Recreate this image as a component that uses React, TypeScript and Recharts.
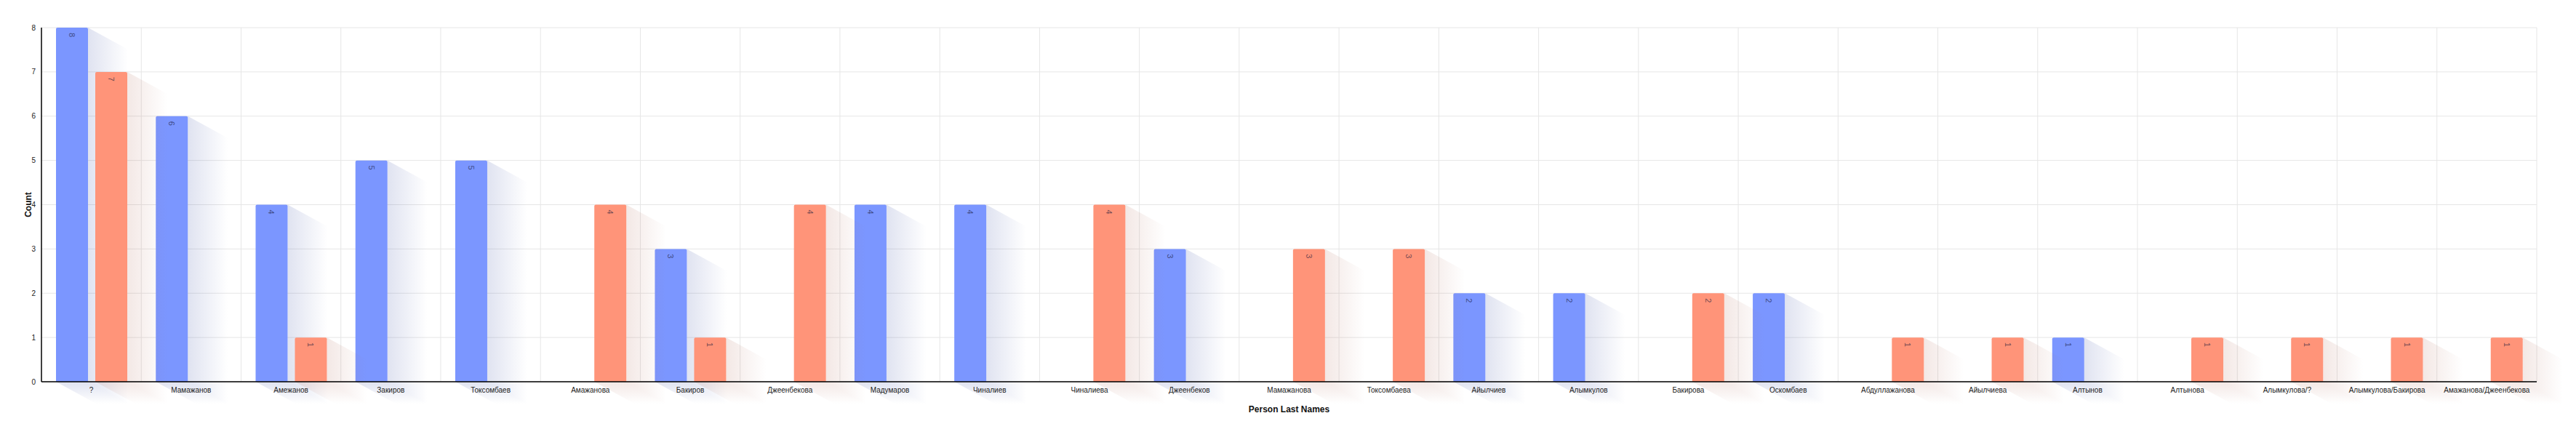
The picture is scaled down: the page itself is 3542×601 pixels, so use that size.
import React from 'react';
import { BarChart, Bar, XAxis, YAxis, CartesianGrid, LabelList, Rectangle, Label } from 'recharts';

const categories = [
  '?', 'Мамажанов', 'Амежанов', 'Закиров', 'Токсомбаев', 'Амажанова', 'Бакиров', 'Джеенбекова',
  'Мадумаров', 'Чиналиев', 'Чиналиева', 'Джеенбеков', 'Мамажанова', 'Токсомбаева', 'Айылчиев',
  'Алымкулов', 'Бакирова', 'Оскомбаев', 'Абдуллажанова', 'Айылчиева', 'Алтынов', 'Алтынова',
  'Алымкулова/?', 'Алымкулова/Бакирова', 'Амажанова/Джеенбекова',
];
const blueValues = [8, 6, 4, 5, 5, 0, 3, 0, 4, 4, 0, 3, 0, 0, 2, 2, 0, 2, 0, 0, 1, 0, 0, 0, 0];
const orangeValues = [7, 0, 1, 0, 0, 4, 1, 4, 0, 0, 4, 0, 3, 3, 0, 0, 2, 0, 1, 1, 0, 1, 1, 1, 1];
const yTicks = [0, 1, 2, 3, 4, 5, 6, 7, 8];

const data = categories.map((name, i) => ({ name, blue: blueValues[i], orange: orangeValues[i] }));

const BLUE = '#7b96ff';
const ORANGE = '#ff9479';
const DX = 55;
const DY = 30;

const makeShape = (key: string, color: string, shadow: string, alpha: number) => (props: any) => {
  const { x, y, width, height, index } = props;
  if (!height || height <= 0) return <g />;
  const gs = `gs-${key}-${index}`;
  const gb = `gb-${key}-${index}`;
  const r = x + width;
  const b = y + height;
  return (
    <g>
      <defs>
        <linearGradient id={gs} gradientUnits="userSpaceOnUse" x1={r} y1={0} x2={r + DX} y2={0}>
          <stop offset="0%" stopColor={shadow} stopOpacity={alpha} />
          <stop offset="100%" stopColor={shadow} stopOpacity={0} />
        </linearGradient>
        <linearGradient id={gb} gradientUnits="userSpaceOnUse" x1={0} y1={b} x2={0} y2={b + DY}>
          <stop offset="0%" stopColor={shadow} stopOpacity={alpha} />
          <stop offset="100%" stopColor={shadow} stopOpacity={0} />
        </linearGradient>
      </defs>
      <polygon
        points={`${r},${y} ${r + DX},${y + DY} ${r + DX},${b + DY} ${r},${b}`}
        fill={`url(#${gs})`}
      />
      <polygon
        points={`${x},${b} ${r},${b} ${r + DX},${b + DY} ${x + DX},${b + DY}`}
        fill={`url(#${gb})`}
      />
      <Rectangle x={x} y={y} width={width} height={height} radius={[2, 2, 0, 0]} fill={color} />
    </g>
  );
};

const valueLabel = (props: any) => {
  const { x, y, width, value } = props;
  if (!value) return null;
  const cx = x + width / 2;
  const cy = y + 10;
  return (
    <text
      x={cx}
      y={cy}
      transform={`rotate(90 ${cx} ${cy})`}
      textAnchor="middle"
      dominantBaseline="central"
      fontSize={11}
      fill="#1a1a3a"
      fillOpacity={0.65}
    >
      {value}
    </text>
  );
};

const countLabel = (props: any) => {
  const { viewBox } = props;
  const cx = viewBox.x + 39;
  const cy = viewBox.y + viewBox.height / 2;
  return (
    <text
      x={cx}
      y={cy}
      transform={`rotate(-90 ${cx} ${cy})`}
      textAnchor="middle"
      dominantBaseline="central"
      fontSize={12}
      fontWeight="bold"
      fill="#111"
    >
      Count
    </text>
  );
};

export default function App() {
  return (
    <div style={{ position: 'absolute', left: 0, top: 0, fontFamily: '"Liberation Sans", Arial, sans-serif', background: '#fff' }}>
      <BarChart
        width={3542}
        height={601}
        data={data}
        margin={{ top: 38, right: 54, bottom: 26, left: 0 }}
        barCategoryGap={20}
        barGap={10}
      >
        <CartesianGrid
          stroke="#e6e6e6"
          verticalCoordinatesGenerator={({ offset }: any) =>
            categories.map((_, i) => offset.left + (offset.width * (i + 1)) / categories.length)
          }
        />
        <XAxis
          dataKey="name"
          interval={0}
          tickLine={false}
          axisLine={{ stroke: '#000', strokeWidth: 1.5 }}
          tick={{ fontSize: 10, fill: '#222' }}
          height={50}
        >
          <Label value="Person Last Names" position="insideBottom" offset={8} fontSize={12} fontWeight="bold" fill="#111" />
        </XAxis>
        <YAxis
          width={57}
          domain={[0, 8]}
          ticks={yTicks}
          tickLine={false}
          axisLine={{ stroke: '#000', strokeWidth: 1.5 }}
          tick={{ fontSize: 10, fill: '#222' }}
        >
          <Label content={countLabel} />
        </YAxis>
        <Bar dataKey="blue" isAnimationActive={false} fill={BLUE} shape={makeShape('b', BLUE, '#4659aa', 0.17)}>
          <LabelList dataKey="blue" content={valueLabel} />
        </Bar>
        <Bar dataKey="orange" isAnimationActive={false} fill={ORANGE} shape={makeShape('o', ORANGE, '#aa5a46', 0.14)}>
          <LabelList dataKey="orange" content={valueLabel} />
        </Bar>
      </BarChart>
    </div>
  );
}
